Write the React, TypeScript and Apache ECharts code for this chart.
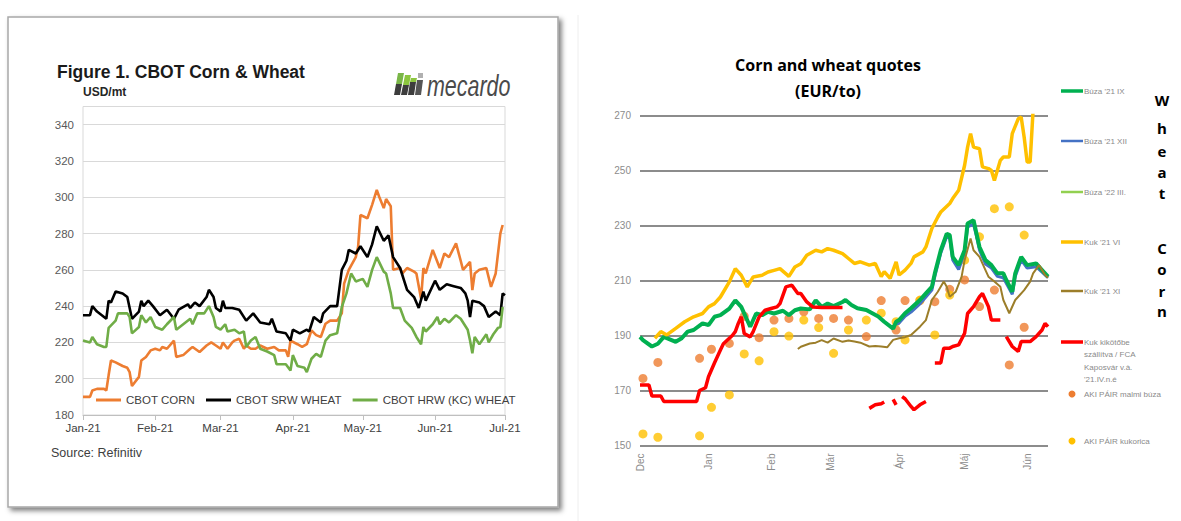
import React, { useEffect, useRef } from "react";
import * as echarts from "echarts";

// ---------------- LEFT CHART DATA (CBOT, USD/mt) ----------------
// [day offset from 2021-01-01, value]
const cbotCorn: [number, number][] = [
  [0,190],[3,190],[4,193.5],[6,194.4],[9,194.4],[10,193.5],[11,202],[12,210],[14,209],[17,207],[19,206],[20,203.6],[21,196],[24,201],[25,210],[27,212],[29,215.6],[31,216.5],[33,215.6],[34,217.5],[36,216.5],[39,221],[40,212],[43,213],[46,216.5],[47,217.5],[50,214.7],[53,218.3],[55,220],[57,218.3],[59,216.5],[60,220],[62,216.5],[64,220],[65,221],[67,222],[69,216.5],[70,218.3],[72,216.5],[74,216.5],[76,218.3],[79,216.5],[82,217.5],[84,215.6],[87,215.6],[88,212],[89,221],[92,219],[94,217.5],[96,219],[98,226.6],[100,224],[102,223],[104,230.3],[106,232],[109,232],[111,236],[112,252.4],[114,260],[117,267],[118,272.7],[119,290.2],[122,288.4],[124,295.8],[126,304],[127,300.4],[129,294],[130,299],[132,295],[133,260],[136,261],[137,258],[139,261],[142,259],[143,258],[145,244],[146,261],[147,258],[150,271],[153,261],[155,269],[157,267],[160,274.6],[162,265],[163,260],[166,264.4],[167,248.8],[168,258],[170,260],[173,261],[175,250.6],[177,258],[179,280],[180,284.7]
];
const cbotSrw: [number, number][] = [
  [0,235],[3,235],[4,240],[6,237],[10,233],[11,243],[12,242],[14,248],[17,247],[19,245],[21,233],[24,237],[25,243],[26,240],[28,243],[30,240],[33,235],[36,238],[39,233],[41,238],[45,241],[46,239],[48,242],[50,240],[53,245],[54,249],[56,245],[57,239],[59,237],[60,243],[61,239],[64,239],[67,238],[70,232],[73,236],[76,231],[80,230],[81,233],[83,226],[87,225],[89,221],[90,227],[93,225],[96,227],[97,226],[99,234],[102,231],[103,236],[106,240],[109,240],[111,260],[113,265],[114,271],[117,269],[119,273],[122,267],[124,274],[126,284],[129,276],[131,279],[133,267],[136,261],[139,249],[142,245],[144,239],[146,248],[147,243],[151,254],[153,249],[156,252],[159,251],[162,250],[164,247],[165,243],[166,234],[167,243],[170,242],[172,240],[174,234],[177,237],[179,235],[180,247],[181,246]
];
const cbotHrw: [number, number][] = [
  [0,221],[3,220],[4,223],[6,219],[9,217.5],[10,217.5],[11,228],[14,232],[15,236],[19,236],[20,234],[21,225],[24,228.5],[25,235],[27,231],[29,234],[31,228.5],[34,227],[36,230],[39,234],[40,227],[43,230],[46,233],[47,230],[49,236],[52,236],[54,240],[56,234],[57,228.5],[59,227],[61,230],[62,226],[65,227],[67,225],[69,226],[70,217.5],[72,221],[74,223],[76,216.5],[79,215],[82,213],[83,208],[87,208],[89,204.5],[90,213],[92,207],[95,206],[96,203.6],[98,211],[100,213.7],[102,212],[104,221],[106,224],[109,225],[111,239.5],[113,247],[115,258],[117,253.6],[120,255],[122,250.6],[124,260],[126,267],[129,259],[130,258],[132,247],[133,239],[136,239],[138,232],[141,228],[143,223],[145,219],[146,228.5],[147,226],[150,230],[152,234],[153,230],[155,233],[157,231],[160,235],[162,233],[165,227],[166,221],[167,214],[168,223],[170,219],[173,224.5],[174,220],[176,224.5],[178,228],[179,228.5],[180,239.5]
];
const leftSeriesNames = ["CBOT CORN", "CBOT SRW WHEAT", "CBOT HRW (KC) WHEAT"];
const leftMonthNames = ["Jan","Feb","Mar","Apr","May","Jun","Jul","Aug","Sep","Oct","Nov","Dec"];

// ---------------- RIGHT CHART DATA (EUR/to) ----------------
// [trading-day index from 2020-12-01, value]; "-" = gap
const buza21IX: [number, number][] = [
  [0,189.5],[1,188.3],[4,186],[6,187],[8,189.5],[12,187.7],[14,189],[16,191.4],[18,192],[21,194.4],[23,193.8],[25,196.8],[27,197.4],[30,199.8],[32,202.8],[34,200.4],[37,193.2],[39,198],[41,197.4],[43,198.6],[45,198],[48,199],[50,197.4],[52,199.2],[54,199.8],[57,199.5],[59,202.8],[61,200.4],[63,201.6],[65,200.7],[68,202.2],[69,202.9],[71,201.1],[73,199.9],[76,199.3],[78,198.1],[80,196.9],[82,195],[85,192.5],[86,195],[87,195.6],[89,198.1],[91,199.9],[94,202.9],[96,205.3],[98,207.7],[99,212.6],[101,221],[103,227],[104,226.5],[105,218.6],[107,215.6],[109,221],[110,230.7],[112,231.9],[113,227],[114,222.2],[116,217.4],[118,215.6],[120,212.6],[122,212.6],[123,210.2],[125,205.9],[126,212.6],[128,218.6],[130,215.6],[133,216.2],[135,213.8],[137,211.4]
];
const buza21XII: [number, number][] = [
  [86,194],[87,194.5],[89,197],[91,198.5],[94,201.5],[96,204],[98,206.5],[99,211.5],[101,220],[103,226],[104,225.5],[105,217.5],[107,214],[109,220],[110,229.5],[112,230.5],[113,226],[114,221],[116,216],[118,214.5],[120,211.5],[122,211],[123,209],[125,205],[126,211.5],[128,217.5],[130,214.5],[133,215],[135,213],[137,211]
];
const kuk21VI: [number, number][] = [
  [5,189],[7,191.4],[9,190.2],[12,192.6],[15,195],[18,196.8],[21,198],[23,200.4],[25,201.6],[27,204],[30,209.5],[32,214.3],[34,211.9],[36,207.7],[38,211.3],[41,211.9],[43,213.1],[45,213.7],[47,214.3],[50,211.5],[52,214.9],[54,216.1],[56,219.2],[59,221],[61,220.4],[63,221.6],[65,221],[68,219.8],[70,218],[72,216.2],[74,216.8],[77,215.6],[79,216.2],[81,211.4],[82,213.2],[84,210.8],[86,216.8],[87,212],[89,213.8],[91,216.2],[92,218.6],[95,220.4],[96,222.2],[98,228.9],[100,233.1],[101,234.9],[104,238],[105,239.8],[107,242.8],[109,251.9],[110,258.5],[111,263.4],[112,258.5],[114,257.9],[115,251.3],[117,250.7],[118,250],[119,246.4],[121,253.7],[122,254.9],[124,254.9],[125,263.4],[127,268.8],[128,269.4],[129,262.1],[130,253.1],[131,253.1],[132,272]
];
const kuk21XI: [number, number][] = [
  [53,185.1],[54,185.9],[57,187.1],[59,187.4],[61,188.3],[63,187.4],[65,188.9],[68,187.7],[70,188.2],[72,187.8],[74,187.4],[77,186],[79,186.2],[81,186],[83,185.7],[85,188.4],[87,189],[89,189.4],[91,190.2],[94,193.2],[96,195.6],[98,202.9],[100,205.9],[102,209.6],[103,207.7],[104,204.1],[106,205.9],[108,211.4],[109,217.4],[111,225.3],[112,221],[114,218.6],[116,213.8],[117,211.4],[119,209.6],[121,207.7],[122,202.9],[124,198.1],[126,202.9],[127,204.1],[129,206.5],[131,209.6],[132,212.6],[134,215.6],[135,213.8],[136,212],[137,211]
];
const kukFca: [number, number | string][] = [
  [0,172],[3,172],[4,168],[7,168],[8,166],[19,166],[20,170],[22,171],[23,175],[25,180],[27,184.7],[28,187],[31,190],[32,191.4],[33,194.4],[34,196.8],[35,190.7],[37,189.5],[38,191.4],[40,196.8],[42,199.2],[44,199.8],[46,200.4],[47,201.6],[49,207.7],[51,208.3],[53,205.3],[54,205.3],[56,202.2],[58,200.4],[61,200.2],[65,200.2],[68,200.2],[69,"-"],
  [77,163.5],[79,164.8],[81,165.2],[82,165.8],[83,"-"],[85,166.8],[86,164.8],[87,"-"],[88,167.8],[89,167],[91,164.2],[92,163],[94,164.8],[96,166],[97,"-"],
  [99,180],[101,180],[102,185.4],[104,185.4],[105,186],[107,186.6],[109,190.8],[110,198],[112,200.5],[114,204.1],[115,205.3],[117,200.5],[118,195.6],[121,195.6],[122,"-"],
  [123,189.6],[125,186],[127,184.2],[128,187.8],[131,187.8],[133,189.6],[135,192],[136,194.4],[137,193.2]
];
const akiMalmi: [number, number][] = [
  [1,174.4],[6,180.2],[20,181.7],[24,185],[30,187.1],[35,197],[40,189.2],[45,195.6],[50,196.2],[55,198.6],[60,196.2],[65,196.2],[70,195.6],[76,189.6],[81,202.7],[86,192],[89,202.7],[94,202.7],[99,202.3],[104,206.8],[109,210.2],[114,200.5],[119,206.5],[124,179.3],[129,193]
];
const akiKukorica: [number, number][] = [
  [1,154.2],[6,153],[20,153.5],[24,163.9],[30,168.4],[35,183.3],[40,180.8],[45,191.4],[50,189.8],[55,195.6],[60,192.9],[65,183.5],[70,192],[76,195.6],[81,198.1],[86,195],[89,188.4],[94,202.9],[99,190.2],[104,204.7],[109,217.4],[114,225.9],[119,236.1],[124,236.8],[129,226.5]
];
const rightMonthNames = ["Jan","Feb","Már","Ápr","Máj","Jún","Júl","Aug","Szep","Okt","Nov","Dec"];
const rightLegendLabels = [
  "Búza '21 IX",
  "Búza '21 XII",
  "Búza '22 III.",
  "Kuk '21 VI",
  "Kuk '21 XI",
  "Kuk kikötőbe\nszállítva / FCA\nKaposvár v.à.\n'21.IV.n.é",
  "AKI PÁIR malmi búza",
  "AKI PÁIR kukorica",
];
const rightColors = ["#00B050", "#4472C4", "#92D050", "#FFC000", "#9C7E2A", "#FF0000", "#ED7D31", "#FFC000"];

// ---------------- categories ----------------
const leftCats: string[] = Array.from({ length: 182 }, (_, i) =>
  new Date(Date.UTC(2021, 0, 1 + i)).toISOString().slice(0, 10)
);
const rightCats: string[] = (() => {
  const out: string[] = [];
  const start = Date.UTC(2020, 11, 1);
  const end = Date.UTC(2021, 5, 10);
  for (let t = start; t <= end; t += 86400000) {
    const d = new Date(t);
    const wd = d.getUTCDay();
    if (wd !== 0 && wd !== 6) out.push(d.toISOString().slice(0, 10));
  }
  return out;
})();
const rightMonthStart = new Set<number>();
rightCats.forEach((c, i) => {
  if (i === 0 || c.slice(5, 7) !== rightCats[i - 1].slice(5, 7)) rightMonthStart.add(i);
});

const LFONT = '"Liberation Sans", Arial, sans-serif';
const RFONT = '"Open Sans", "Noto Sans", sans-serif';

function buildOption(): any {
  const legendY = [91, 141, 192, 242, 291, 342];
  const graphics: any[] = [
    // left panel frame
    {
      type: "rect", z: -1,
      shape: { x: 8, y: 17, width: 550, height: 490 },
      style: { fill: "#ffffff", stroke: "#a8a8a8", lineWidth: 1.5, shadowBlur: 5, shadowOffsetX: 3, shadowOffsetY: 3, shadowColor: "rgba(0,0,0,0.5)" },
    },
    { type: "line", z: -1, shape: { x1: 578, y1: 15, x2: 578, y2: 521 }, style: { stroke: "#eeeeee", lineWidth: 1 } },
    {
      type: "text", x: 57, y: 72,
      style: { text: "Figure 1. CBOT Corn & Wheat", fontSize: 17.5, fontWeight: "bold", fontFamily: LFONT, fill: "#1a1a1a", textVerticalAlign: "middle" },
    },
    {
      type: "text", x: 83, y: 92,
      style: { text: "USD/mt", fontSize: 12, fontWeight: "bold", fontFamily: LFONT, fill: "#262626", textVerticalAlign: "middle" },
    },
    {
      type: "text", x: 51, y: 453,
      style: { text: "Source: Refinitiv", fontSize: 12.5, fontFamily: LFONT, fill: "#404040", textVerticalAlign: "middle" },
    },
    // mecardo logo
    { type: "polygon", shape: { points: [[396, 84], [402, 84], [400, 95], [394, 95]] }, style: { fill: "#3d3d3d" } },
    { type: "polygon", shape: { points: [[398, 73], [404, 73], [402, 84], [396, 84]] }, style: { fill: "#7ab648" } },
    { type: "polygon", shape: { points: [[403, 85], [409, 85], [407, 95], [401, 95]] }, style: { fill: "#3d3d3d" } },
    { type: "polygon", shape: { points: [[405, 75], [411, 75], [409, 85], [403, 85]] }, style: { fill: "#8cc63f" } },
    { type: "polygon", shape: { points: [[410, 82], [416, 82], [414, 95], [408, 95]] }, style: { fill: "#3d3d3d" } },
    { type: "polygon", shape: { points: [[411, 78], [417, 78], [416, 82], [410, 82]] }, style: { fill: "#8cc63f" } },
    { type: "polygon", shape: { points: [[417, 80], [423, 80], [421, 95], [415, 95]] }, style: { fill: "#555555" } },
    { type: "rect", shape: { x: 418, y: 73, width: 5, height: 5 }, style: { fill: "#b0b0b0" } },
    {
      type: "text", x: 427, y: 86, scaleX: 0.74,
      style: { text: "mecardo", fontSize: 29, fontStyle: "italic", fontFamily: LFONT, fill: "#4a4a4a", textVerticalAlign: "middle" },
    },
    // right title
    {
      type: "text", x: 828, y: 65,
      style: { text: "Corn and wheat quotes", fontSize: 16, fontWeight: "bold", fontFamily: RFONT, fill: "#000", textAlign: "center", textVerticalAlign: "middle" },
    },
    {
      type: "text", x: 828, y: 91,
      style: { text: "(EUR/to)", fontSize: 16, fontWeight: "bold", fontFamily: RFONT, fill: "#000", textAlign: "center", textVerticalAlign: "middle" },
    },
  ];
  // right legend (drawn)
  for (let i = 0; i < 6; i++) {
    graphics.push({
      type: "line",
      shape: { x1: 1061, y1: legendY[i], x2: 1083, y2: legendY[i] },
      style: { stroke: rightColors[i], lineWidth: i === 1 || i === 2 || i === 4 ? 2.5 : 3.5 },
    });
    graphics.push({
      type: "text", x: 1084, y: legendY[i] - 6,
      style: { text: rightLegendLabels[i], fontSize: 8, lineHeight: 12.5, fontFamily: LFONT, fill: "#8a8a8a", textVerticalAlign: "top" },
    });
  }
  [394, 441].forEach((y, k) => {
    graphics.push({ type: "circle", shape: { cx: 1072, cy: y, r: 3.5 }, style: { fill: rightColors[6 + k] } });
    graphics.push({
      type: "text", x: 1084, y,
      style: { text: rightLegendLabels[6 + k], fontSize: 8, fontFamily: LFONT, fill: "#8a8a8a", textVerticalAlign: "middle" },
    });
  });
  // vertical words
  const wheatY = [100, 128, 151, 172, 193];
  "Wheat".split("").forEach((ch, i) =>
    graphics.push({ type: "text", x: 1162, y: wheatY[i], style: { text: ch, fontSize: 15, fontWeight: "bold", fontFamily: RFONT, fill: "#000", textAlign: "center", textVerticalAlign: "middle" } })
  );
  const cornY = [248, 269, 291, 311];
  "Corn".split("").forEach((ch, i) =>
    graphics.push({ type: "text", x: 1162, y: cornY[i], style: { text: ch, fontSize: 15, fontWeight: "bold", fontFamily: RFONT, fill: "#000", textAlign: "center", textVerticalAlign: "middle" } })
  );

  const leftColors = ["#ED7D31", "#000000", "#70AD47"];
  const leftData = [cbotCorn, cbotSrw, cbotHrw];

  const rightLineSeries = [
    { name: rightLegendLabels[1], data: buza21XII, color: rightColors[1], width: 3 },
    { name: rightLegendLabels[0], data: buza21IX, color: rightColors[0], width: 4 },
    { name: rightLegendLabels[3], data: kuk21VI, color: rightColors[3], width: 3.5 },
    { name: rightLegendLabels[4], data: kuk21XI, color: rightColors[4], width: 2 },
    { name: rightLegendLabels[5], data: kukFca, color: rightColors[5], width: 3.5 },
  ];

  return {
    animation: false,
    backgroundColor: "#ffffff",
    textStyle: { fontFamily: LFONT },
    graphic: graphics,
    legend: {
      data: leftSeriesNames,
      left: 96, top: 394,
      padding: 0,
      itemGap: 11,
      itemWidth: 25, itemHeight: 3,
      icon: "rect",
      textStyle: { fontSize: 11.5, color: "#404040", fontFamily: LFONT },
    },
    grid: [
      { left: 83, top: 106.5, width: 422, height: 308.5, show: true, borderColor: "#d9d9d9", borderWidth: 1, backgroundColor: "transparent" },
      { left: 640, top: 115.5, width: 408, height: 330 },
    ],
    xAxis: [
      {
        type: "category", gridIndex: 0, data: leftCats, boundaryGap: false,
        axisLine: { lineStyle: { color: "#bfbfbf" } },
        axisTick: { show: true, length: 5, lineStyle: { color: "#bfbfbf" }, interval: (_i: number, v: string) => v.endsWith("-01") },
        axisLabel: {
          interval: (_i: number, v: string) => v.endsWith("-01"),
          formatter: (v: string) => leftMonthNames[parseInt(v.slice(5, 7), 10) - 1] + "-21",
          fontSize: 11.5, color: "#404040", margin: 7, fontFamily: LFONT,
        },
        splitLine: { show: false },
      },
      {
        type: "category", gridIndex: 1, data: rightCats, boundaryGap: false,
        axisLine: { show: false }, axisTick: { show: false },
        axisLabel: {
          rotate: 90,
          interval: (i: number) => rightMonthStart.has(i),
          formatter: (v: string) => rightMonthNames[parseInt(v.slice(5, 7), 10) - 1],
          fontSize: 10, color: "#8c8c8c", margin: 8, fontFamily: LFONT,
        },
        splitLine: { show: false },
      },
    ],
    yAxis: [
      {
        type: "value", gridIndex: 0, min: 180, max: 350, interval: 20,
        axisLine: { show: false }, axisTick: { show: false },
        axisLabel: { showMaxLabel: false, fontSize: 11.5, color: "#595959", margin: 9, fontFamily: LFONT },
        splitLine: { lineStyle: { color: "#d9d9d9", width: 1 } },
      },
      {
        type: "value", gridIndex: 1, min: 150, max: 270, interval: 20,
        axisLine: { show: false }, axisTick: { show: false },
        axisLabel: { fontSize: 10, color: "#8c8c8c", margin: 9, fontFamily: LFONT },
        splitLine: { lineStyle: { color: "#8c8c8c", width: 2 } },
      },
    ],
    series: [
      ...leftData.map((d, i) => ({
        name: leftSeriesNames[i], type: "line", xAxisIndex: 0, yAxisIndex: 0,
        data: d, showSymbol: false, symbol: "none",
        lineStyle: { color: leftColors[i], width: 2.6 }, itemStyle: { color: leftColors[i] },
      })),
      ...rightLineSeries.map((s) => ({
        name: s.name, type: "line", xAxisIndex: 1, yAxisIndex: 1,
        data: s.data, showSymbol: false, symbol: "none", connectNulls: false,
        lineStyle: { color: s.color, width: s.width }, itemStyle: { color: s.color },
      })),
      {
        name: rightLegendLabels[6], type: "scatter", xAxisIndex: 1, yAxisIndex: 1,
        data: akiMalmi, symbolSize: 9, itemStyle: { color: rightColors[6] },
      },
      {
        name: rightLegendLabels[7], type: "scatter", xAxisIndex: 1, yAxisIndex: 1,
        data: akiKukorica, symbolSize: 9, itemStyle: { color: rightColors[7] },
      },
    ],
  };
}

export default function App() {
  const ref = useRef<HTMLDivElement>(null);
  useEffect(() => {
    if (!ref.current) return;
    const chart = echarts.init(ref.current, null, { renderer: "svg" });
    chart.setOption(buildOption());
    return () => chart.dispose();
  }, []);
  return (
    <div
      ref={ref}
      style={{ position: "fixed", left: 0, top: 0, width: 1181, height: 521, background: "#fff" }}
    />
  );
}
